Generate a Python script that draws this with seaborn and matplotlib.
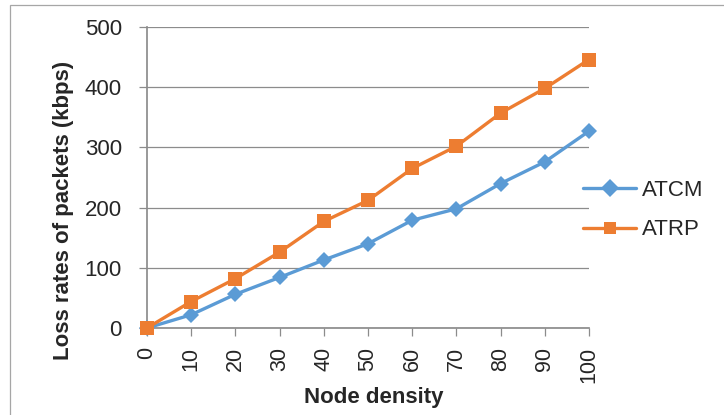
import matplotlib
matplotlib.use("Agg")
import matplotlib.pyplot as plt
import seaborn as sns
import pandas as pd
from matplotlib.patches import Rectangle

node_density = [0, 10, 20, 30, 40, 50, 60, 70, 80, 90, 100]
atcm = [0, 22, 56, 84, 113, 140, 179, 198, 240, 276, 327]
atrp = [0, 44, 82, 126, 177, 212, 265, 302, 357, 398, 446]
series_names = ["ATCM", "ATRP"]
y_ticks = [0, 100, 200, 300, 400, 500]

df = pd.DataFrame({
    "x": node_density * 2,
    "y": atcm + atrp,
    "series": [series_names[0]] * len(atcm) + [series_names[1]] * len(atrp),
})

sns.set_theme(style="white")
plt.rcParams["font.family"] = ["Liberation Sans", "DejaVu Sans"]

W, H = 724, 415
fig = plt.figure(figsize=(7.24, 4.15), dpi=100)
ax = fig.add_axes([147/W, 1-328/H, (589-147)/W, (328-27)/H])

grey = "#8c8c8c"
palette = {"ATCM": "#5B9BD5", "ATRP": "#ED7D31"}
markers = {"ATCM": "D", "ATRP": "s"}
sns.lineplot(data=df, x="x", y="y", hue="series", style="series",
             palette=palette, markers=markers, dashes=False,
             linewidth=2.4, markersize=8.5, markeredgewidth=0,
             ax=ax, zorder=3)
for line in ax.lines:
    if line.get_marker() == "s":
        line.set_markersize(10.5)
    line.set_clip_on(False)

ax.set_xlim(0, 100)
ax.set_ylim(0, 500)
ax.set_xticks(node_density)
ax.set_xticklabels([str(v) for v in node_density], rotation=90, fontsize=15.5)
ax.set_yticks(y_ticks)
ax.set_yticklabels([str(v) for v in y_ticks], fontsize=16)
ax.yaxis.grid(True, color=grey, linewidth=0.9)
ax.set_axisbelow(True)
for s in ["top", "right"]:
    ax.spines[s].set_visible(False)
ax.spines["left"].set_color(grey)
ax.spines["bottom"].set_color(grey)
ax.tick_params(axis="x", bottom=True, length=6, color=grey, width=0.9, pad=7.5)
ax.tick_params(axis="y", left=True, length=6, color=grey, width=0.9, pad=12)

ax.set_xlabel("Node density", fontsize=16, fontweight="bold")
ax.set_ylabel("Loss rates of packets (kbps)", fontsize=16, fontweight="bold")
ax.xaxis.set_label_coords((374-147)/(589-147), (328-398)/(328-27))
ax.xaxis.label.set_va("center")
ax.yaxis.set_label_coords((64-147)/(589-147), (328-210)/(328-27))
ax.yaxis.label.set_va("center")

handles, labels = ax.get_legend_handles_labels()
if ax.get_legend() is not None:
    ax.get_legend().remove()
leg = fig.legend(handles, labels, loc="center left",
                 bbox_to_anchor=(583/W, 1-210/H), bbox_transform=fig.transFigure,
                 frameon=False, fontsize=16, handlelength=2.4, labelspacing=0.85,
                 handletextpad=0.25, borderpad=0, borderaxespad=0)
for h in leg.legend_handles:
    h.set_markersize(9)

fig.add_artist(Rectangle((10/W, -0.1), 1.2, 1 - 5/H + 0.1, transform=fig.transFigure,
                         fill=False, edgecolor="#a6a6a6", linewidth=0.9))

fig.savefig("out.png", dpi=100)
